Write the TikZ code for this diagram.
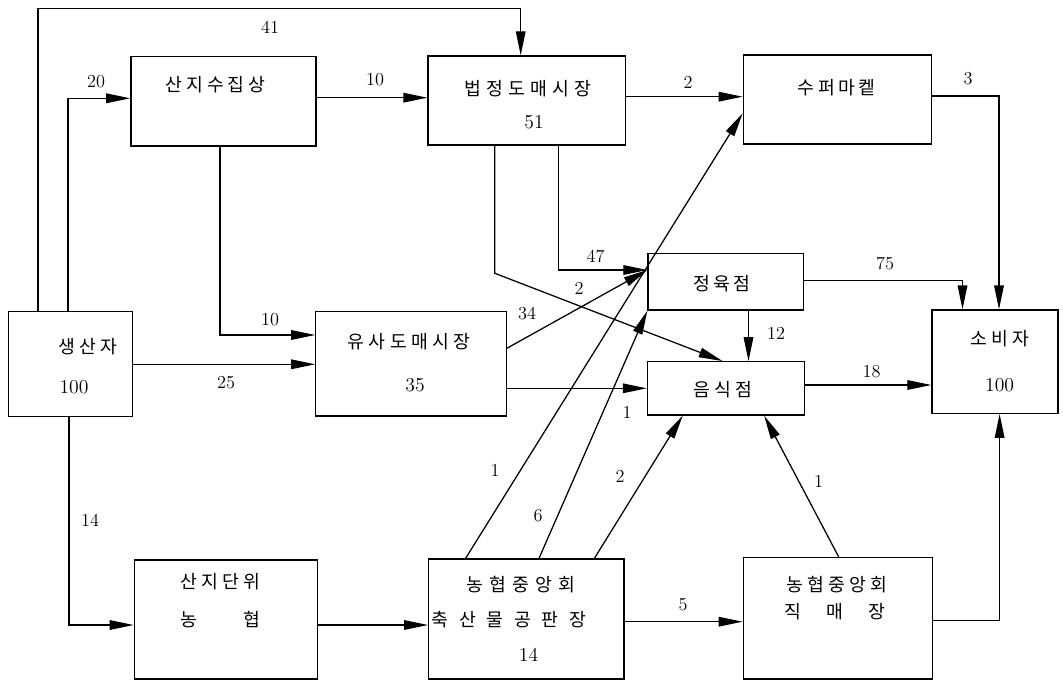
\documentclass[tikz,border=0pt]{standalone}
\usepackage{fontspec}
\newfontfamily\krfont{Noto Sans CJK KR}
\usetikzlibrary{arrows.meta}
\newcommand{\spreadto}[2]{\makebox[#1][s]{#2}}

\begin{document}
\begin{tikzpicture}[x=0.025cm,y=-0.025cm,
    box/.style={draw,line width=0.9pt,inner sep=0pt},
    kr/.style={inner sep=0pt,font=\krfont\fontsize{13}{15}\selectfont},
    num/.style={inner sep=0pt,font=\fontsize{14}{16}\selectfont},
    flow/.style={inner sep=0pt,font=\fontsize{13}{15}\selectfont},
    wire/.style={line width=0.9pt},
    arr/.style={line width=0.9pt,-{Triangle[length=6mm,width=2.4mm]}}]
  \useasboundingbox (0,0) rectangle (1063,682);

  % boxes
  \node[box,minimum width=3.1cm,minimum height=2.625cm] (prod) at (70.6,364.2) {};
  \node[box,minimum width=4.63cm,minimum height=2.23cm] (coll) at (223.5,101.35) {};
  \node[box,minimum width=4.94cm,minimum height=2.225cm] (legal) at (526.8,100.5) {};
  \node[box,minimum width=4.7cm,minimum height=2.225cm] (super) at (837.35,99.5) {};
  \node[box,minimum width=4.76cm,minimum height=2.61cm] (quasi) at (411,363.85) {};
  \node[box,minimum width=3.88cm,minimum height=1.42cm] (butch) at (725.6,281.65) {};
  \node[box,minimum width=3.93cm,minimum height=1.33cm] (rest) at (726,388.35) {};
  \node[box,minimum width=3.15cm,minimum height=2.58cm] (cons) at (995,361.65) {};
  \node[box,minimum width=4.58cm,minimum height=2.975cm] (local) at (225.9,619.5) {};
  \node[box,minimum width=4.88cm,minimum height=3cm] (auct) at (526.3,619) {};
  \node[box,minimum width=4.735cm,minimum height=3.04cm] (direct) at (838,618.15) {};

  % box texts
  \node[kr] (t-prod) at (87.8,346.7) {\spreadto{1.46cm}{생 산 자}};
  \node[num] (n-prod) at (74,386.7) {100};
  \node[kr] (t-coll) at (215.5,85) {\spreadto{2.5cm}{산 지 수 집 상}};
  \node[kr] (t-legal) at (528,88.3) {\spreadto{3.15cm}{법 정 도 매 시 장}};
  \node[num] (n-legal) at (534,121.7) {51};
  \node[kr] (t-super) at (836.8,87.3) {\spreadto{1.95cm}{수 퍼 마 켙}};
  \node[kr] (t-quasi) at (409,341.7) {\spreadto{3.06cm}{유 사 도 매 시 장}};
  \node[num] (n-quasi) at (415,385) {35};
  \node[kr] (t-butch) at (721.6,283.3) {\spreadto{1.43cm}{정 육 점}};
  \node[kr] (t-rest) at (722.6,390) {\spreadto{1.47cm}{음 식 점}};
  \node[kr] (t-cons) at (999.6,338.3) {\spreadto{1.47cm}{소 비 자}};
  \node[num] (n-cons) at (999.6,385) {100};
  \node[kr] (t-local) at (220.5,581.7) {\spreadto{1.98cm}{산 지 단 위}};
  \node[kr] (t-local2) at (220.5,620) {\spreadto{1.98cm}{농 협}};
  \node[kr] (t-auct) at (521,585) {\spreadto{2.72cm}{농 협 중 앙 회}};
  \node[kr] (t-auct2) at (509,620) {\spreadto{3.85cm}{축 산 물 공 판 장}};
  \node[num] (n-auct) at (528.5,655) {14};
  \node[kr] (t-direct) at (836.8,585) {\spreadto{2.51cm}{농 협 중 앙 회}};
  \node[kr] (t-direct2) at (835,611.7) {\spreadto{2.51cm}{직 매 장}};

  % flows
  \draw[arr] (prod.north -| 38,0) -- (38,8.3) -| (legal.north -| 520.7,0);
  \draw[arr] (prod.north -| 68,0) |- (coll.west |- 0,98.3);
  \draw[arr] (coll.east |- 0,97.7) -- (legal.west |- 0,97.7);
  \draw[arr] (legal.east |- 0,96.7) -- (super.west |- 0,96.7);
  \draw[arr] (super.east |- 0,96) -| (cons.north -| 999,0);
  \draw[arr] (coll.south -| 220,0) |- (quasi.west |- 0,335);
  \draw[arr] (prod.east |- 0,364.3) -- (quasi.west |- 0,364.3);
  \draw[arr] (prod.south -| 68.9,0) |- (local.west |- 0,625);
  \draw[arr] (local.east |- 0,625) -- (auct.west |- 0,625);
  \draw[arr] (auct.east |- 0,621.7) -- (direct.west |- 0,621.7);
  \draw[arr] (direct.east |- 0,620.7) -| (cons.south -| 999.6,0);
  \draw[arr] (rest.east |- 0,385) -- (cons.west |- 0,385);
  \draw[arr] (butch.east |- 0,280.7) -| (cons.north -| 962.5,0);
  \draw[arr] (butch.south -| 748.5,0) -- (rest.north -| 748.5,0);
  \draw[arr] (legal.south -| 558.6,0) |- (butch.west |- 0,270);
  \draw[arr] (legal.south -| 494.8,0) -- (494.8,273.3) -- (rest.north -| 722.6,0);
  \draw[arr] (quasi.east |- 0,348.3) -- (butch.west |- 0,270);
  \draw[arr] (quasi.east |- 0,388.3) -- (rest.west |- 0,388.3);
  \draw[arr] (auct.north -| 465.6,0) -- (super.west |- 0,113.3);
  \draw[arr] (auct.north -| 539,0) -- (butch.south west);
  \draw[arr] (auct.north -| 594.4,0) -- (rest.south -| 682.7,0);
  \draw[arr] (direct.north -| 838.6,0) -- (rest.south -| 764.1,0);

  % flow numbers
  \node[flow] (l41) at (270,27.3) {41};
  \node[flow] (l20) at (96,81.7) {20};
  \node[flow] (l10a) at (375,80) {10};
  \node[flow] (l2a) at (688,82.7) {2};
  \node[flow] (l3) at (968,79) {3};
  \node[flow] (l10b) at (270,320) {10};
  \node[flow] (l25) at (226,382.3) {25};
  \node[flow] (l34) at (527,313.3) {34};
  \node[flow] (l2b) at (579,288.3) {2};
  \node[flow] (l47) at (595.5,256.7) {47};
  \node[flow] (l75) at (885,263.3) {75};
  \node[flow] (l12) at (776,333.3) {12};
  \node[flow] (l18) at (871.5,371.7) {18};
  \node[flow] (l1a) at (627,412.7) {1};
  \node[flow] (l14) at (90,520.7) {14};
  \node[flow] (l1b) at (495,470.7) {1};
  \node[flow] (l6) at (538,516) {6};
  \node[flow] (l2c) at (620,476.7) {2};
  \node[flow] (l1c) at (818.5,481.7) {1};
  \node[flow] (l5) at (683,605) {5};
\end{tikzpicture}
\end{document}
